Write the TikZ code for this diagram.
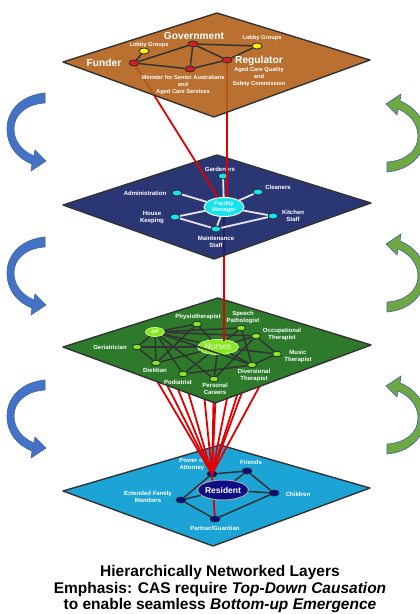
\documentclass[tikz,border=0pt]{standalone}
\usepackage{fontspec}
\setmainfont{Liberation Sans}
\usetikzlibrary{shapes.geometric}

\definecolor{layerorange}{HTML}{B2611A}
\definecolor{layerblue}{HTML}{152266}
\definecolor{layergreen}{HTML}{2C7A2A}
\definecolor{layercyan}{HTML}{1CA4D6}
\definecolor{rimgray}{HTML}{333333}
\definecolor{linkred}{HTML}{E00000}
\definecolor{arrowblue}{HTML}{4472C4}
\definecolor{arrowgreen}{HTML}{6FA843}
\definecolor{arrowrim}{HTML}{3F63A8}
\definecolor{nodered}{HTML}{D42020}
\definecolor{nodeyellow}{HTML}{FFF200}
\definecolor{nodecyan}{HTML}{12E4F0}
\definecolor{nodegreen}{HTML}{86E81E}
\definecolor{nodenavy}{HTML}{0D0D85}
\definecolor{dotrim}{HTML}{2A2A2A}
\definecolor{spoke}{HTML}{E6E6E6}

\tikzset{
  layerbox/.style={draw=rimgray, line width=1.4pt, line join=round},
  dot/.style={ellipse, inner sep=0pt, minimum width=10pt, minimum height=6pt, line width=0.8pt, draw=dotrim},
  reddot/.style={dot, fill=nodered},
  yellowdot/.style={dot, fill=nodeyellow},
  cyandot/.style={dot, fill=nodecyan},
  greendot/.style={dot, fill=nodegreen, minimum width=9pt, minimum height=5.5pt},
  navydot/.style={dot, fill=nodenavy},
  lab/.style={text=white, font=\fontsize{6}{7}\selectfont\bfseries, align=center, inner sep=0pt},
  sublab/.style={lab, font=\fontsize{5.7}{7}\selectfont\bfseries},
  biglab/.style={text=white, font=\fontsize{10.2}{12}\selectfont\bfseries, inner sep=0pt},
  darkedge/.style={draw=rimgray, line width=1.5pt},
  lightedge/.style={draw=spoke, line width=1.8pt},
  redlink/.style={draw=linkred, line width=1.8pt},
  curlarrow/.pic={
    \path[pic actions] (45,93) .. controls (22,95) and (7,110) .. (7,129)
      .. controls (7,146) and (17,158) .. (32,164) -- (31,171) -- (46,161)
      -- (35,150) -- (34,156) .. controls (22,151) and (14,141) .. (14,129)
      .. controls (14,114) and (27,104) .. (45,103) -- cycle;
  },
}

\begin{document}
\begin{tikzpicture}[x=1pt,y=-1pt]
\clip (0,0) rectangle (420,614);
\fill[white] (0,0) rectangle (420,614);

% anchor points of nodes that are linked across layers
\coordinate (pFun) at (134,63);
\coordinate (pReg) at (227,60);
\coordinate (pFM)  at (224,207);
\coordinate (pGer) at (137,347);
\coordinate (pGP)  at (155,332);
\coordinate (pDie) at (156,363);
\coordinate (pPod) at (183,374);
\coordinate (pPhy) at (197,324);
\coordinate (pPer) at (214,379);
\coordinate (pNur) at (218,347);
\coordinate (pSpe) at (241,328);
\coordinate (pDiv) at (252,365);
\coordinate (pOcc) at (256,336);
\coordinate (pMus) at (277,354);

% ---------------- bottom layer: resident and family
\path[layerbox, fill=layercyan] (63,491) -- (220,445) -- (370,488) -- (213,546) -- cycle;
\node[navydot] (poa) at (212,474) {};
\node[navydot] (fri) at (247,471) {};
\node[navydot] (chi) at (274,493) {};
\node[navydot] (par) at (215,519) {};
\node[navydot] (ext) at (181,500) {};
\draw[darkedge] (poa) -- (fri);
\draw[darkedge] (fri) -- (chi);
\draw[darkedge] (chi) -- (par);
\draw[darkedge] (par) -- (ext);
\draw[darkedge] (ext) -- (poa);
\node[lab] (lpoa) at (192,464) {Power of\\Attorney};
\node[lab] (lfri) at (251,462) {Friends};
\node[lab] (lchi) at (298,494) {Children};
\node[lab] (lpar) at (215,528) {Partner/Guardian};
\node[lab] (lext) at (148,496.5) {Extended Family\\Members};
% links from the care team down to the resident
\foreach \p in {pGer,pGP,pDie,pPod,pPhy,pPer,pNur,pSpe,pDiv,pOcc,pMus}
  \draw[redlink] (\p) -- (poa.center);
\draw[redlink] (poa.center) -- (par);
\node[ellipse, fill=nodenavy, draw=gray!70, line width=1pt, minimum width=42pt,
      minimum height=20pt, inner sep=0pt, text=white,
      font=\fontsize{8.5}{10}\selectfont\bfseries] (res) at (223,490) {Resident};
\draw[darkedge] (res) -- (fri);
\draw[darkedge] (res) -- (chi);
\draw[darkedge] (res) -- (ext);

% ---------------- care team layer
\path[layerbox, fill=layergreen] (63,347) -- (218,298) -- (371,345) -- (215,403) -- cycle;
\node[greendot] (ger) at (pGer) {};
\node[greendot] (die) at (pDie) {};
\node[greendot] (pod) at (pPod) {};
\node[greendot] (phy) at (pPhy) {};
\node[greendot] (per) at (pPer) {};
\node[greendot] (spe) at (pSpe) {};
\node[greendot] (div) at (pDiv) {};
\node[greendot] (occ) at (pOcc) {};
\node[greendot] (mus) at (pMus) {};
\node[ellipse, fill=nodegreen, draw=nodegreen!40!white, line width=0.8pt, minimum width=19pt,
      minimum height=9pt, inner sep=0pt, text=white,
      font=\fontsize{5}{6}\selectfont\bfseries] (gp) at (pGP) {GP};
\node[ellipse, fill=nodegreen, draw=nodegreen!40!white, line width=0.8pt, minimum width=41pt,
      minimum height=15pt, inner sep=0pt, text=white,
      font=\fontsize{8.5}{10}\selectfont] (nur) at (pNur) {Nurses};
\foreach \a/\b in {gp/phy,gp/spe,gp/occ,gp/nur,gp/ger,gp/die,gp/pod,gp/per,gp/div,
                   ger/nur,ger/die,die/nur,phy/die,pod/nur,phy/nur,spe/nur,spe/div,
                   occ/nur,occ/mus,occ/per,nur/mus,nur/div,nur/per,mus/div,pod/div}
  \draw[darkedge] (\a) -- (\b);
\node[lab] (lphy) at (198,317) {Physiotherapist};
\node[lab] (lspe) at (243,317.5) {Speech\\Pathologist};
\node[lab] (locc) at (282,334.5) {Occupational\\Therapist};
\node[lab] (lmus) at (298,356.5) {Music\\Therapist};
\node[lab] (ldiv) at (254,375.5) {Diversional\\Therapist};
\node[lab] (lper) at (215,388.5) {Personal\\Careers};
\node[lab] (lpod) at (178,382) {Podiatrist};
\node[lab] (ldie) at (155,370) {Dietitian};
\node[lab] (lger) at (110,347) {Geriatrician};
% link from the facility manager down to the nurses
\draw[redlink] (pFM) -- ([yshift=-1.5pt]pFM |- nur.north);

% ---------------- facility layer
\path[layerbox, fill=layerblue, fill opacity=0.9] (63,205) -- (217,155) -- (371,203) -- (214,259) -- cycle;
\node[ellipse, fill=nodecyan, draw=white, line width=1pt, minimum width=40pt,
      minimum height=19pt, inner sep=0pt, text=white, align=center,
      font=\fontsize{5.6}{6.2}\selectfont\bfseries] (fm) at (pFM) {Facility\\Manager};
\node[cyandot] (gar) at (223,176) {};
\node[cyandot] (cle) at (258,192) {};
\node[cyandot] (kit) at (273,216) {};
\node[cyandot] (mai) at (216,229) {};
\node[cyandot] (hou) at (175,217) {};
\node[cyandot] (adm) at (177,193) {};
\foreach \b in {gar,cle,kit,mai,hou,adm}
  \draw[lightedge] (fm) -- (\b);
\draw[lightedge] (hou) -- (mai);
\draw[lightedge] (mai) -- (kit);
\node[lab] (lgar) at (220,169) {Gardeners};
\node[lab] (lcle) at (278,187) {Cleaners};
\node[lab] (lkit) at (293,215.5) {Kitchen\\Staff};
\node[lab] (lmai) at (216,242) {Maintenance\\Staff};
\node[lab] (lhou) at (152,218) {House\\Keeping};
\node[lab] (ladm) at (145,193) {Administration};
% links from governance down to the facility manager
\draw[redlink] (pFun) -- (fm);
\draw[redlink] (pReg) -- (pReg |- fm.north);

% ---------------- governance layer
\path[layerbox, fill=layerorange, fill opacity=0.9] (63,62) -- (217,13) -- (370,60) -- (214,117) -- cycle;
\node[reddot] (gov) at (193,44) {};
\node[reddot] (fun) at (pFun) {};
\node[reddot] (min) at (190,69) {};
\node[reddot] (reg) at (pReg) {};
\node[yellowdot] (lobl) at (144,51) {};
\node[yellowdot] (lobr) at (257,46) {};
\foreach \a/\b in {gov/fun,gov/min,gov/reg,gov/lobr,fun/lobl,fun/min,min/reg,reg/lobr}
  \draw[darkedge] (\a) -- (\b);
\node[biglab] (lgov) at (194,36) {Government};
\node[biglab] (lfun) at (104,63) {Funder};
\node[biglab] (lreg) at (259,61) {Regulator};
\node[sublab] (llobl) at (149,45) {Lobby Groups};
\node[sublab] (llobr) at (262,38) {Lobby Groups};
\node[sublab] (lmin) at (183,85) {Minister for Senior Australians\\and\\Aged Care Services};
\node[sublab] (lacq) at (259,77) {Aged Care Quality\\and\\Safety Commission};

% ---------------- turning arrows beside the layers
\foreach \dy in {0,144,287}
  \pic[fill=arrowblue, draw=arrowrim, line width=0.6pt] at (0,\dy) {curlarrow};
\foreach \dy in {0,140,282}
  \pic[fill=arrowgreen, draw=arrowrim, line width=0.6pt, rotate=180] at (432,265+\dy) {curlarrow};

% ---------------- caption
\node[align=center, font=\fontsize{15.5}{16.5}\selectfont\bfseries, inner sep=0pt] (cap) at (220,589)
  {Hierarchically Networked Layers\\
   Emphasis: CAS require \textit{Top-Down Causation}\\
   to enable seamless \textit{Bottom-up Emergence}};
\end{tikzpicture}
\end{document}
